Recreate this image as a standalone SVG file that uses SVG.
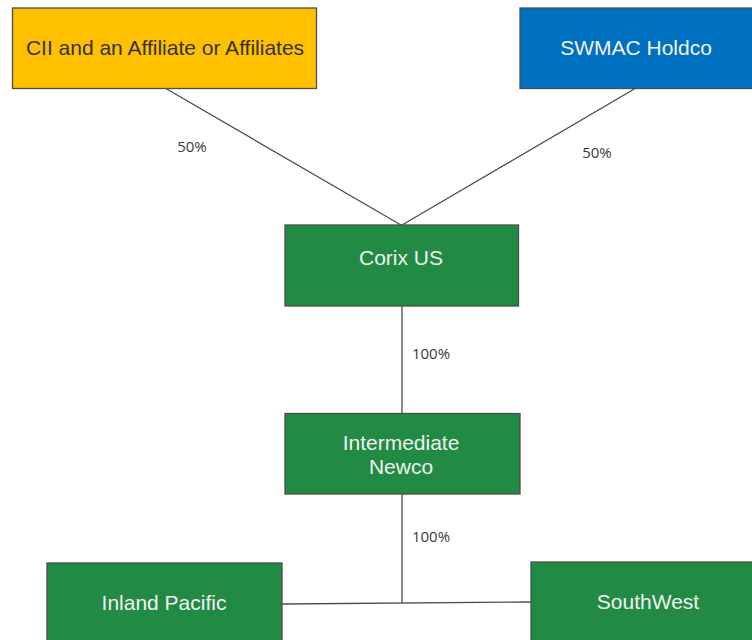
<svg xmlns="http://www.w3.org/2000/svg" width="752" height="640" viewBox="0 0 752 640">
<style>
.box{stroke:#4d4d4d;stroke-width:1.3}
.g{fill:#218A43}
.t{font-family:"Liberation Sans",Arial,sans-serif;font-size:21px;text-anchor:middle}
.w{fill:#f2f2f2}
.lbl{font-family:"Open Sans","DejaVu Sans",sans-serif;font-size:15px;fill:#3a3a3a;text-anchor:middle}
.c{stroke:#4d4d4d;stroke-width:1.3;fill:none}
</style>
<rect width="752" height="640" fill="#ffffff"/>
<g id="connectors">
<line class="c" x1="165" y1="88" x2="401" y2="225"/>
<line class="c" x1="636" y1="88" x2="402" y2="225"/>
<line class="c" x1="402" y1="306" x2="402" y2="413"/>
<line class="c" x1="402" y1="494" x2="402" y2="603"/>
<line class="c" x1="282" y1="604" x2="531" y2="602"/>
<text class="lbl" x="192" y="152">50%</text>
<text class="lbl" x="597" y="158">50%</text>
<text class="lbl" x="431" y="359">100%</text>
<text class="lbl" x="431" y="542">100%</text>
</g>
<g id="cii">
<rect class="box" x="12.5" y="8" width="304" height="80.5" fill="#FFC000"/>
<text class="t" x="165" y="55" fill="#333333">CII and an Affiliate or Affiliates</text>
</g>
<g id="swmac">
<rect class="box" x="520" y="8" width="240" height="80.5" fill="#0070C0"/>
<text class="t w" x="636" y="55">SWMAC Holdco</text>
</g>
<g id="corix">
<rect class="box g" x="285" y="225" width="233.5" height="81"/>
<text class="t w" x="401" y="265">Corix US</text>
</g>
<g id="newco">
<rect class="box g" x="285" y="413.5" width="235" height="80.5"/>
<text class="t w" x="401" y="450">Intermediate</text>
<text class="t w" x="401" y="474">Newco</text>
</g>
<g id="inland">
<rect class="box g" x="47" y="563" width="235" height="90"/>
<text class="t w" x="164" y="610">Inland Pacific</text>
</g>
<g id="southwest">
<rect class="box g" x="531" y="562" width="240" height="90"/>
<text class="t w" x="648" y="609">SouthWest</text>
</g>
</svg>
